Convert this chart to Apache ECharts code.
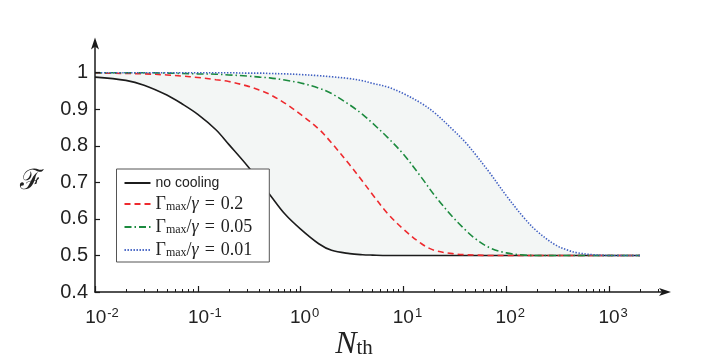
<!DOCTYPE html>
<html><head><meta charset="utf-8">
<script src="https://cdn.jsdelivr.net/npm/echarts@6/dist/echarts.min.js"></script>
<style>html,body{margin:0;padding:0;background:#fff}#c{width:706px;height:359px}</style>
</head><body><div id="c"></div>
<script>
// thermal occupation N_th (x, log scale)
const nth = [0.01,0.02,0.03,0.05,0.07,0.1,0.15,0.2,0.3,0.4,0.5,0.7,1,1.5,2,3,4,5,7,10,15,20,30,40,50,70,100,150,200,300,400,500,700,1000,2000];
// fidelity F for each curve
const noCooling = [0.988,0.979,0.966,0.939,0.915,0.886,0.844,0.804,0.747,0.703,0.667,0.614,0.572,0.532,0.514,0.505,0.502,0.501,0.500,0.500,0.500,0.500,0.500,0.500,0.500,0.500,0.500,0.500,0.500,0.500,0.500,0.500,0.500,0.500,0.500];
const ratio02   = [0.999,0.998,0.997,0.994,0.991,0.987,0.981,0.976,0.964,0.952,0.941,0.917,0.886,0.846,0.808,0.748,0.703,0.667,0.615,0.572,0.532,0.514,0.505,0.502,0.501,0.500,0.500,0.500,0.500,0.500,0.500,0.500,0.500,0.500,0.500];
const ratio005  = [1.000,1.000,1.000,0.999,0.998,0.997,0.996,0.994,0.991,0.988,0.986,0.980,0.972,0.958,0.943,0.912,0.886,0.862,0.823,0.777,0.713,0.665,0.606,0.570,0.546,0.520,0.507,0.501,0.500,0.500,0.500,0.500,0.500,0.500,0.500];
const ratio001  = [1.000,1.000,1.000,1.000,1.000,1.000,1.000,1.000,0.999,0.999,0.998,0.997,0.995,0.992,0.989,0.984,0.978,0.971,0.961,0.943,0.916,0.891,0.845,0.810,0.777,0.724,0.664,0.602,0.566,0.529,0.514,0.507,0.502,0.500,0.500];

const xMajorTicks = [0.01,0.1,1,10,100,1000];
const xMinorTicks = [0.02,0.03,0.04,0.05,0.06,0.07,0.08,0.09,0.2,0.3,0.4,0.5,0.6,0.7,0.8,0.9,2,3,4,5,6,7,8,9,20,30,40,50,60,70,80,90,200,300,400,500,600,700,800,900,2000,3000];
const yTicks = [0.4,0.5,0.6,0.7,0.8,0.9,1.0];

const seriesNames = ['no cooling','Γmax/γ = 0.2','Γmax/γ = 0.05','Γmax/γ = 0.01'];
const legendRich = {
  'no cooling': '{s|no cooling}',
  'Γmax/γ = 0.2': '{g|Γ}{sub|max}{g|/}{it|γ}{eq|=}{g|0.2}',
  'Γmax/γ = 0.05': '{g|Γ}{sub|max}{g|/}{it|γ}{eq|=}{g|0.05}',
  'Γmax/γ = 0.01': '{g|Γ}{sub|max}{g|/}{it|γ}{eq|=}{g|0.01}'
};

const pairs = (ys) => nth.map((x, i) => [x, ys[i]]);

const axisColor = '#1a1a1a';
const chart = echarts.init(document.getElementById('c'), null, {renderer: 'canvas'});
const lineBase = {type: 'line', symbol: 'none', showSymbol: false, smooth: 0.35, xAxisIndex: 0, yAxisIndex: 0};

chart.setOption({
  animation: false,
  backgroundColor: '#fff',
  grid: {left: 95, right: 41, top: 43.5, bottom: 67, containLabel: false, outerBoundsMode: 'none'},
  xAxis: [{
    type: 'log', logBase: 10, min: 0.01, max: 3500, position: 'bottom', z: 10,
    axisLine: {show: true, onZero: false, symbol: ['none', 'arrow'], symbolSize: [6, 12], symbolOffset: [0, 6], lineStyle: {color: axisColor, width: 1.5}},
    axisTick: {show: true, inside: true, length: 6, customValues: xMajorTicks, lineStyle: {color: axisColor, width: 1.2}},
    axisLabel: {
      show: true, customValues: xMajorTicks, margin: 15, color: '#222',
      formatter: function (v) {
        const e = Math.round(Math.log10(v));
        return (e < 0 ? '{pn|}' : '{pp|}') + '{b|10}{s|' + e + '}';
      },
      rich: {
        b: {fontFamily: 'Liberation Sans', fontSize: 19, lineHeight: 20, verticalAlign: 'bottom', color: '#222'},
        s: {fontFamily: 'Liberation Sans', fontSize: 13, lineHeight: 14, padding: [0, 0, 14, 1], verticalAlign: 'top', color: '#222'},
        pn: {width: 14, fontSize: 13},
        pp: {width: 8, fontSize: 13}
      }
    },
    splitLine: {show: false},
    name: '{n|N}{t|th}', nameLocation: 'middle', nameGap: 39, nameMoveOverlap: false,
    nameTextStyle: {
      padding: [0, 52, 0, 0],
      rich: {
        n: {fontFamily: 'Liberation Serif', fontStyle: 'italic', fontSize: 32, lineHeight: 28, color: '#222'},
        t: {fontFamily: 'Liberation Serif', fontSize: 21, lineHeight: 12, verticalAlign: 'bottom', color: '#222'}
      }
    }
  }, {
    type: 'log', logBase: 10, min: 0.01, max: 3500, position: 'bottom', gridIndex: 0, z: 10,
    axisLine: {show: false, onZero: false},
    axisTick: {show: true, inside: true, length: 3, customValues: xMinorTicks, lineStyle: {color: axisColor, width: 1}},
    axisLabel: {show: false},
    splitLine: {show: false}
  }],
  yAxis: {
    type: 'value', min: 0.4, max: 1.08, z: 10,
    axisLine: {show: true, onZero: false, symbol: ['none', 'arrow'], symbolSize: [6, 12], symbolOffset: [0, 6], lineStyle: {color: axisColor, width: 1.5}},
    axisTick: {show: true, inside: true, length: 5, customValues: yTicks, lineStyle: {color: axisColor, width: 1.2}},
    axisLabel: {
      customValues: yTicks, margin: 7, color: '#222', fontFamily: 'Liberation Sans', fontSize: 20,
      formatter: function (v) { return Math.abs(v - 1) < 1e-9 ? '1' : v.toFixed(1); }
    },
    splitLine: {show: false},
    name: 'ℱ', nameLocation: 'middle', nameGap: 52, nameRotate: 0, nameMoveOverlap: false,
    nameTextStyle: {fontFamily: 'DejaVu Serif', fontSize: 28, color: '#222', verticalAlign: 'top'}
  },
  legend: {
    data: seriesNames, orient: 'vertical', left: 116.5, top: 169, z: 20,
    backgroundColor: '#fff', borderColor: '#555', borderWidth: 1, borderRadius: 0,
    padding: [7, 17, 3, 7], itemWidth: 26, itemHeight: 10, itemGap: 5,
    itemStyle: {opacity: 0},
    formatter: function (name) { return legendRich[name]; },
    textStyle: {
      color: '#222',
      rich: {
        s: {fontFamily: 'Liberation Sans', fontSize: 14, lineHeight: 17, color: '#222'},
        g: {fontFamily: 'Liberation Serif', fontSize: 18, lineHeight: 17, color: '#222'},
        it: {fontFamily: 'Liberation Serif', fontStyle: 'italic', fontSize: 18, lineHeight: 17, color: '#222'},
        eq: {fontFamily: 'Liberation Serif', fontSize: 18, lineHeight: 17, padding: [0, 6, 0, 6], color: '#222'},
        sub: {fontFamily: 'Liberation Serif', fontSize: 12, lineHeight: 8, verticalAlign: 'bottom', color: '#222'}
      }
    }
  },
  series: [
    Object.assign({}, lineBase, {name: '_bandTop', data: pairs(ratio001), lineStyle: {opacity: 0}, areaStyle: {color: '#f3f6f5', opacity: 1, origin: 'start'}, silent: true, z: 1}),
    Object.assign({}, lineBase, {name: '_bandMask', data: pairs(noCooling), lineStyle: {opacity: 0}, areaStyle: {color: '#ffffff', opacity: 1, origin: 'start'}, silent: true, z: 2}),
    Object.assign({}, lineBase, {name: seriesNames[0], data: pairs(noCooling), z: 3, lineStyle: {color: '#1c1c1c', width: 1.6, type: 'solid'}, itemStyle: {color: '#1c1c1c'}}),
    Object.assign({}, lineBase, {name: seriesNames[1], data: pairs(ratio02), z: 4, lineStyle: {color: '#ee2a2e', width: 1.6, type: [6, 4]}, itemStyle: {color: '#ee2a2e'}}),
    Object.assign({}, lineBase, {name: seriesNames[2], data: pairs(ratio005), z: 5, lineStyle: {color: '#1b8a3e', width: 1.6, type: [7, 3, 1.5, 3]}, itemStyle: {color: '#1b8a3e'}}),
    Object.assign({}, lineBase, {name: seriesNames[3], data: pairs(ratio001), z: 6, lineStyle: {color: '#3f5fc2', width: 1.6, type: [1.4, 1.6]}, itemStyle: {color: '#3f5fc2'}})
  ]
});
</script>
</body></html>
